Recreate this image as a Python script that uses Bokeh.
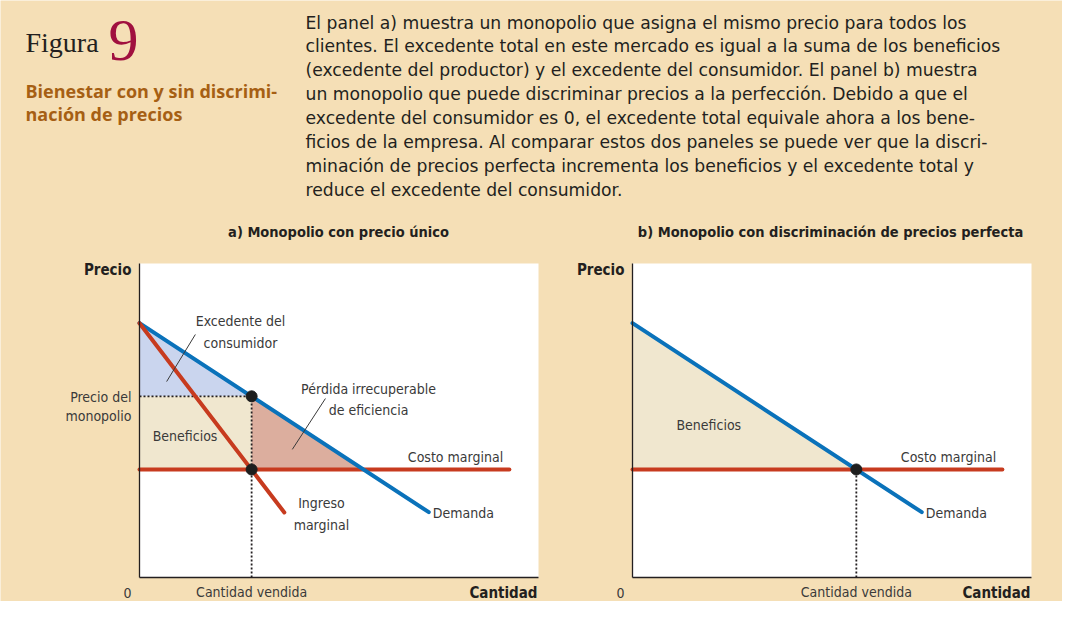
from bokeh.plotting import figure
from bokeh.models import Range1d, FixedTicker, LinearAxis
from bokeh.core.properties import value
from bokeh.embed import file_html
from bokeh.resources import INLINE

# ---------------- data ----------------
demand_q = [0.0, 7.25]
demand_p = [8.10, 2.08]
mr_q = [0.0, 3.63]
mr_p = [8.10, 2.07]
mc_q = [0.0, 9.27]
mc_p = [3.44, 3.44]
mono_q = 2.81
mono_p = 5.77
comp_q = 5.61

paragraph_lines = [
    "El panel a) muestra un monopolio que asigna el mismo precio para todos los",
    "clientes. El excedente total en este mercado es igual a la suma de los beneficios",
    "(excedente del productor) y el excedente del consumidor. El panel b) muestra",
    "un monopolio que puede discriminar precios a la perfección. Debido a que el",
    "excedente del consumidor es 0, el excedente total equivale ahora a los bene-",
    "ficios de la empresa. Al comparar estos dos paneles se puede ver que la discri-",
    "minación de precios perfecta incrementa los beneficios y el excedente total y",
    "reduce el excedente del consumidor.",
]
subtitle_lines = ["Bienestar con y sin discrimi-", "nación de precios"]
panel_titles = ["a) Monopolio con precio único",
                "b) Monopolio con discriminación de precios perfecta"]
x_tick_label = "Cantidad vendida"
y_tick_label = ["Precio del", "monopolio"]

# ---------------- styles / layout ----------------
W, H = 1062, 601
BG = "#F5DFB6"
DARK = "#231F20"
GREY = "#3A3A3A"
BLUE = "#0A72BA"
RED = "#C73B1F"
NARROW = "'Liberation Sans Narrow', 'DejaVu Sans Condensed', sans-serif"
BOLDFONT = "Open Sans"
BODY = "DejaVu Sans"
SERIF = "Liberation Serif"

A_LEFT, B_LEFT = 139, 632      # left edge of each plot box (px)
BOX_TOP, BOX_BOTTOM = 263, 577  # top / bottom of plot boxes (px)
BOX_W = 399
Q_PX = BOX_W / 10.0
P_PX = (BOX_BOTTOM - BOX_TOP) / 10.0

p = figure(width=W, height=H, x_range=Range1d(0, W), y_range=Range1d(H, 0),
           toolbar_location=None, output_backend="svg",
           x_axis_location=None, y_axis_location=None, min_border=0)
p.background_fill_color = BG
p.border_fill_color = BG
p.outline_line_color = None
p.grid.visible = False

p.extra_x_ranges = {
    "a": Range1d(-A_LEFT / Q_PX, (W - A_LEFT) / Q_PX),
    "b": Range1d(-B_LEFT / Q_PX, (W - B_LEFT) / Q_PX),
}
p.extra_y_ranges = {"p": Range1d(-(H - BOX_BOTTOM) / P_PX, BOX_BOTTOM / P_PX)}

# ---------------- header ----------------
p.text(x=[25], y=[42], text=["Figura"], text_font=value(SERIF), text_font_size="28px",
       text_color=DARK, text_baseline="middle")
p.text(x=[108], y=[40], text=["9"], text_font=value(SERIF), text_font_size="60px",
       text_color="#A0103F", text_baseline="middle")
p.text(x=[25, 25], y=[90, 113], text=subtitle_lines, text_font=value(BOLDFONT),
       text_font_style="bold", text_font_size="18px", text_color="#A65F14",
       text_baseline="middle")
p.text(x=[305] * len(paragraph_lines), y=[22 + 23.9 * i for i in range(len(paragraph_lines))],
       text=paragraph_lines, text_font=value(BODY), text_font_size="17.2px",
       text_color=DARK, text_baseline="middle")
p.text(x=[338, 830], y=[231, 231], text=panel_titles, text_font=value(NARROW),
       text_font_style="bold", text_font_size="14.5px", text_color=DARK,
       text_align="center", text_baseline="middle")


# ---------------- panels ----------------
def setup_panel(rn, tick_q):
    p.quad(left=[0], right=[10], bottom=[0], top=[10], x_range_name=rn, y_range_name="p",
           fill_color="white", line_color=None)
    xa = LinearAxis(x_range_name=rn, y_range_name="p", fixed_location=0, bounds=(0, 10),
                    ticker=FixedTicker(ticks=[tick_q]),
                    major_label_overrides={tick_q: x_tick_label})
    ya = LinearAxis(x_range_name=rn, y_range_name="p", fixed_location=0, bounds=(0, 10),
                    ticker=FixedTicker(ticks=[]))
    for ax in (xa, ya):
        ax.axis_line_color = DARK
        ax.axis_line_width = 1.3
        ax.major_tick_line_color = None
        ax.minor_tick_line_color = None
        ax.major_label_text_font = NARROW
        ax.major_label_text_font_size = "14px"
        ax.major_label_text_color = GREY
        ax.major_label_standoff = 0
    p.add_layout(xa, "below")
    p.add_layout(ya, "left")

    def lab(x, y, t, xo=0, yo=0, align="center", bold=False):
        p.text(x=x if isinstance(x, list) else [x], y=y if isinstance(y, list) else [y],
               text=t if isinstance(t, list) else [t], x_offset=xo, y_offset=yo,
               x_range_name=rn, y_range_name="p", text_align=align, text_baseline="middle",
               text_font=value(NARROW), text_font_size="15px" if bold else "14px",
               text_font_style="bold" if bold else "normal",
               text_color=DARK if bold else GREY)

    lab(0, 10, "Precio", xo=-8, yo=6, align="right", bold=True)
    lab(0, 0, "0", xo=-12, yo=15)
    lab(10, 0, "Cantidad", xo=-1, yo=15, align="right", bold=True)
    lab(demand_q[1], demand_p[1], "Demanda", xo=4, yo=1, align="left")
    lab(7.92, 3.85, "Costo marginal")
    return lab


DOT = dict(line_color=DARK, line_width=1.8, line_dash="2 2")
CURVE = dict(line_width=4, line_cap="round")

# panel a
laba = setup_panel("a", mono_q)
ka = dict(x_range_name="a", y_range_name="p")
p.patch([0, 0, mono_q], [demand_p[0], mono_p, mono_p], color="#CAD5EE", line_color=None, **ka)
p.patch([0, 0, mono_q, mono_q], [mono_p, mc_p[0], mc_p[0], mono_p], color="#F0E7CF", line_color=None, **ka)
p.patch([mono_q, mono_q, comp_q], [mono_p, mc_p[0], mc_p[0]], color="#DCAE9E", line_color=None, **ka)
p.line([0, mono_q], [mono_p, mono_p], **DOT, **ka)
p.line([mono_q, mono_q], [0, mono_p], **DOT, **ka)
p.line(mc_q, mc_p, line_color=RED, **CURVE, **ka)
p.line(demand_q, demand_p, line_color=BLUE, **CURVE, **ka)
p.line(mr_q, mr_p, line_color=RED, **CURVE, **ka)
p.scatter([mono_q, mono_q], [mono_p, mc_p[0]], size=11, color="#1E1E1E", **ka)
p.line([0.68, 1.40], [6.24, 7.74], line_color=GREY, line_width=1, **ka)
p.line([3.83, 4.66], [4.08, 5.70], line_color=GREY, line_width=1, **ka)
laba([2.53, 2.53], [8.18, 7.48], ["Excedente del", "consumidor"])
laba([5.74, 5.74], [5.99, 5.32], ["Pérdida irrecuperable", "de eficiencia"])
laba(0.33, 4.52, "Beneficios", align="left")
laba([4.56, 4.56], [2.36, 1.66], ["Ingreso", "marginal"])
laba(0, mono_p, y_tick_label[0], xo=-8, yo=1, align="right")
laba(0, mono_p, y_tick_label[1], xo=-8, yo=20, align="right")

# panel b
labb = setup_panel("b", comp_q)
kb = dict(x_range_name="b", y_range_name="p")
p.patch([0, 0, comp_q], [demand_p[0], mc_p[0], mc_p[0]], color="#F0E7CF", line_color=None, **kb)
p.line([comp_q, comp_q], [0, mc_p[0]], **DOT, **kb)
p.line(mc_q, mc_p, line_color=RED, **CURVE, **kb)
p.line(demand_q, demand_p, line_color=BLUE, **CURVE, **kb)
p.scatter([comp_q], [mc_p[0]], size=11, color="#1E1E1E", **kb)
labb(1.10, 4.87, "Beneficios", align="left")

open("out.html", "w").write(file_html(p, INLINE))
